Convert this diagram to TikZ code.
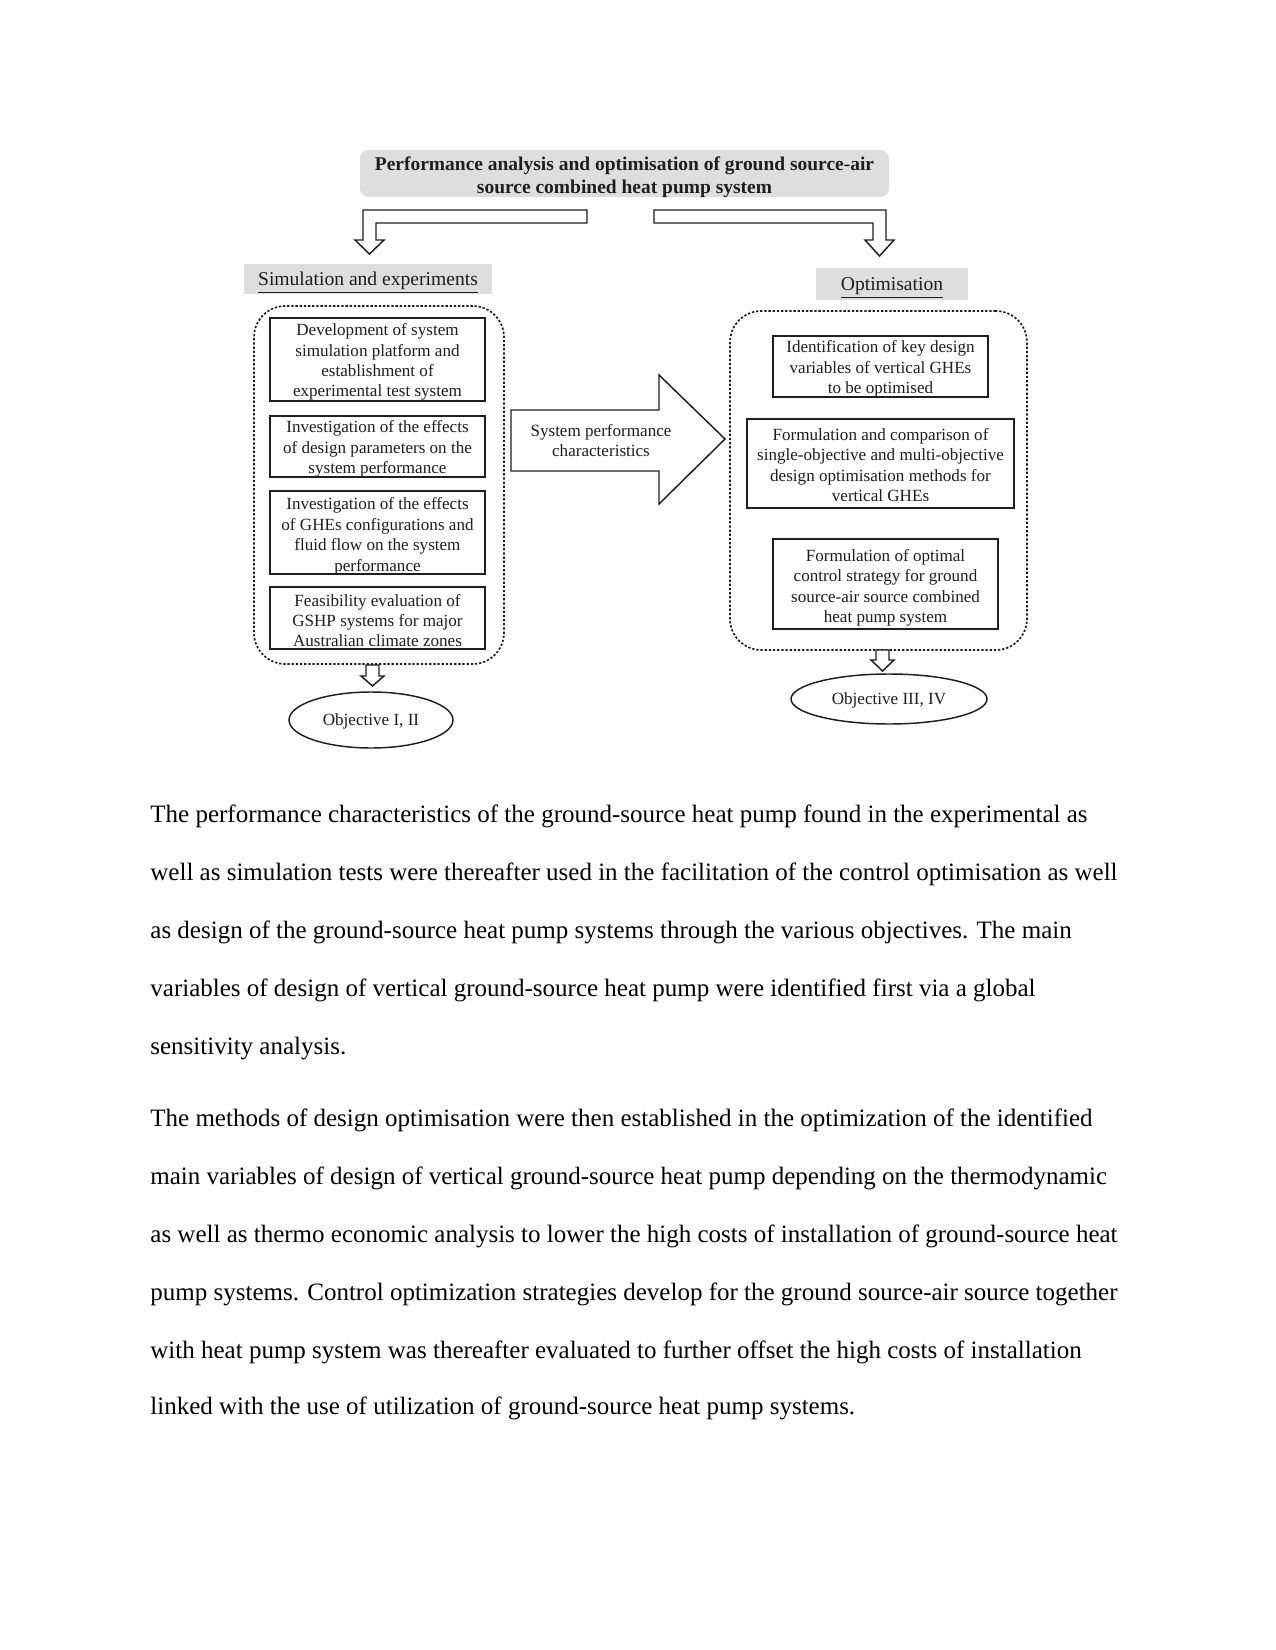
\documentclass[tikz,border=0pt]{standalone}
\usepackage{fontspec}
\setmainfont{Liberation Serif}
\usetikzlibrary{shapes.geometric}
\definecolor{boxgray}{RGB}{222,222,222}
\definecolor{ink}{RGB}{30,30,30}
\begin{document}
\begin{tikzpicture}[x=0.48pt,y=-0.48pt,
  every node/.style={inner sep=0pt, text=ink},
  dfont/.style={font=\fontsize{8.2}{9.8}\selectfont},
  wh/.style 2 args={minimum width=#1*0.48pt, minimum height=#2*0.48pt},
  box/.style={draw=ink, line width=0.7pt},
  ltext/.style={dfont, align=center, text=ink, inner sep=0pt, yshift=-1.25pt},
  htext/.style={align=center, text=ink, inner sep=0pt, yshift=-2pt, font=\fontsize{9.4}{11}\selectfont},
  ttext/.style={align=center, text=ink, inner sep=0pt, yshift=-2pt, font=\bfseries\fontsize{9.35}{11}\selectfont},
  graybox/.style={fill=boxgray},
  dashbox/.style={draw=ink, line width=0.8pt, dash pattern=on 1.1pt off 0.9pt, rounded corners=15pt},
  blockarrow/.style={draw=ink, line width=0.7pt, fill=white},
  bodyline/.style={anchor=base west, font=\fontsize{12}{14}\selectfont, text=black},
  oval/.style={ellipse, draw=ink, line width=0.7pt, dfont}
]
\useasboundingbox (0,0) rectangle (1275,1650);
\fill[white] (0,0) rectangle (1275,1650);

% title
\node[graybox, rounded corners=4pt, wh={529}{47},
      label={[ttext]center:{Performance analysis and optimisation of ground source-air\\source combined heat pump system}}] (title) at (624.5,173.5) {};

% bent arrows
\draw[blockarrow] (587,210) -- (363,210) -- (363,240) -- (355,240) -- (369.5,254) -- (384,240) -- (376,240) -- (376,223) -- (587,223) -- cycle;
\draw[blockarrow] (654,210) -- (886,210) -- (886,240) -- (894,240) -- (879.5,256) -- (865,240) -- (873,240) -- (873,223) -- (654,223) -- cycle;

% headings
\node[graybox, wh={248}{30}, label={[htext]center:{\underline{Simulation and experiments}}}] (sim) at (368,279) {};
\node[graybox, wh={152}{32}, label={[htext]center:{\underline{Optimisation}}}] (opt) at (892,284) {};

% dashed containers
\node[dashbox, wh={250}{358}] (leftgroup) at (379,485) {};
\node[dashbox, wh={297}{339}] (rightgroup) at (878.5,480.5) {};

% left boxes
\node[box, wh={215}{83}, label={[ltext]center:{Development of system\\simulation platform and\\establishment of\\experimental test system}}] (l1) at (377.5,359.5) {};
\node[box, wh={215}{61}, label={[ltext]center:{Investigation of the effects\\of design parameters on the\\system performance}}] (l2) at (377.5,446.5) {};
\node[box, wh={215}{83}, label={[ltext,yshift=-0.6pt]center:{Investigation of the effects\\of GHEs configurations and\\fluid flow on the system\\performance}}] (l3) at (377.5,532.5) {};
\node[box, wh={215}{62}, label={[ltext]center:{Feasibility evaluation of\\GSHP systems for major\\Australian climate zones}}] (l4) at (377.5,618) {};

% right boxes
\node[box, wh={215}{61}, label={[ltext]center:{Identification of key design\\variables of vertical GHEs\\to be optimised}}] (r1) at (880.5,366.5) {};
\node[box, wh={267}{89}, label={[ltext,yshift=0.5pt]center:{Formulation and comparison of\\single-objective and multi-objective\\design optimisation methods for\\vertical GHEs}}] (r2) at (880.5,463.5) {};
\node[box, wh={225}{90}, label={[ltext,yshift=-0.6pt]center:{Formulation of optimal\\control strategy for ground\\source-air source combined\\heat pump system}}] (r3) at (885.5,584) {};

% big arrow
\draw[blockarrow] (511,410) -- (659,410) -- (659,375) -- (725,439) -- (659,504) -- (659,471) -- (511,471) -- cycle;
\node[dfont, align=center] (spc) at (601,440.5) {System performance\\characteristics};

% small down arrows
\draw[blockarrow] (366,665) -- (379,665) -- (379,676) -- (384,676) -- (372.5,686) -- (361,676) -- (366,676) -- cycle;
\draw[blockarrow] (876,650) -- (889,650) -- (889,660) -- (894,660) -- (882.5,671) -- (871,660) -- (876,660) -- cycle;

% objectives
\node[oval, wh={164}{56}] (obj1) at (371,720) {\raisebox{-0.5pt}[\height][\depth]{Objective I, II}};
\node[oval, wh={196}{50}] (obj2) at (889,699) {\raisebox{-0.5pt}[\height][\depth]{Objective III, IV}};

% body text
\node[bodyline] (p1a) at (150,822) {The performance characteristics of the ground-source heat pump found in the experimental as};
\node[bodyline] (p1b) at (150,880) {well as simulation tests were thereafter used in the facilitation of the control optimisation as well};
\node[bodyline] (p1c) at (150,938) {as design of the ground-source heat pump systems through the various objectives. The main};
\node[bodyline] (p1d) at (150,996) {variables of design of vertical ground-source heat pump were identified first via a global};
\node[bodyline] (p1e) at (150,1054) {sensitivity analysis.};

\node[bodyline] (p2a) at (150,1126) {The methods of design optimisation were then established in the optimization of the identified};
\node[bodyline] (p2b) at (150,1184) {main variables of design of vertical ground-source heat pump depending on the thermodynamic};
\node[bodyline] (p2c) at (150,1242) {as well as thermo economic analysis to lower the high costs of installation of ground-source heat};
\node[bodyline] (p2d) at (150,1300) {pump systems. Control optimization strategies develop for the ground source-air source together};
\node[bodyline] (p2e) at (150,1358) {with heat pump system was thereafter evaluated to further offset the high costs of installation};
\node[bodyline] (p2f) at (150,1414) {linked with the use of utilization of ground-source heat pump systems.};
\end{tikzpicture}
\end{document}
